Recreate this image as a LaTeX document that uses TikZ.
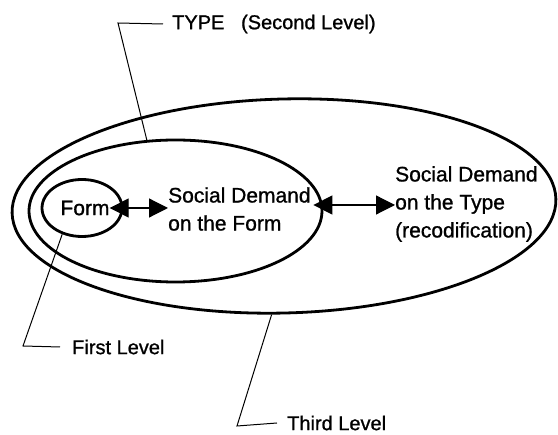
\documentclass[tikz,border=0pt]{standalone}
\usepackage{fontspec}
\setmainfont{Liberation Sans}
\newfontfamily\scanfont{Liberation Sans}[FakeBold=1]
\usetikzlibrary{shapes.geometric,arrows.meta}
\begin{document}
\begin{tikzpicture}[x=1pt,y=-1pt,
  lvl/.style={draw,ellipse,line width=2.8pt,inner sep=0pt},
  lbl/.style={font=\scanfont\fontsize{20}{28}\selectfont,inner sep=0pt},
  ilbl/.style={font=\scanfont\fontsize{21}{28}\selectfont,inner sep=0pt},
  lead/.style={line width=1pt},
  darr/.style={line width=1.2pt,{Triangle[length=19pt,width=19pt]}-{Triangle[length=19pt,width=19pt]}}]
\useasboundingbox (0,0) rectangle (558,435);
\node[lvl,minimum width=544pt,minimum height=214pt,rotate=1.5] (third) at (284,206) {};
\node[lvl,minimum width=293pt,minimum height=142pt] (second) at (175.5,211) {};
\node[lvl,minimum width=80pt,minimum height=57pt] (first) at (82,208) {};
\node[ilbl] (form) at (85,208) {Form};
\node[ilbl,align=left,anchor=west] (sdf) at (168,209) {Social Demand\\on the Form};
\node[ilbl,align=left,anchor=west] (sdt) at (395,204) {Social Demand\\on the Type\\(recodification)};
\draw[darr] (form.east) -- (form.east -| sdf.west);
\draw[darr] ([xshift=-10pt]second.east |- 0,205) -- (sdt.west |- 0,205);
\node[lbl,anchor=west] (typelbl) at (172,24) {TYPE\ \ \ (Second Level)};
\node[lbl,anchor=west] (flbl) at (72,347) {First Level};
\node[lbl,anchor=west] (tlbl) at (287,423) {Third Level};
\coordinate (tk) at (118,23);
\coordinate (fk) at (23,346);
\coordinate (hk) at (237,426);
\draw[lead] ([xshift=-9pt]typelbl.west) -- (tk) -- (second.112);
\draw[lead] ([xshift=-12pt]flbl.west) -- (fk) -- (first.233);
\draw[lead] ([xshift=-10pt]tlbl.west) -- (hk) -- (third.262);
\end{tikzpicture}
\end{document}
